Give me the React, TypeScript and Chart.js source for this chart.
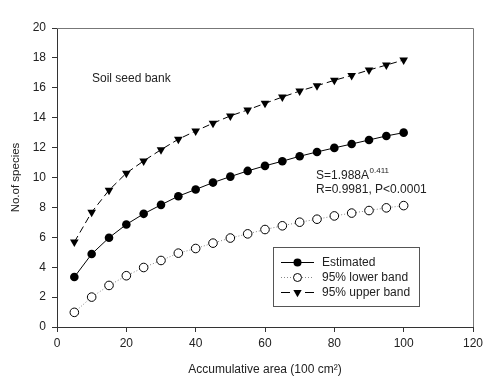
import React, { useEffect, useRef } from "react";
import { Chart, registerables } from "chart.js";

Chart.register(...registerables);

const areas = [5, 10, 15, 20, 25, 30, 35, 40, 45, 50, 55, 60, 65, 70, 75, 80, 85, 90, 95, 100];
const estimated = [3.34, 4.88, 5.97, 6.86, 7.57, 8.17, 8.75, 9.2, 9.66, 10.06, 10.44, 10.78, 11.09, 11.42, 11.71, 11.98, 12.24, 12.51, 12.78, 13.0];
const lowerBand = [0.98, 2.0, 2.78, 3.43, 3.98, 4.45, 4.94, 5.25, 5.61, 5.95, 6.23, 6.52, 6.77, 7.01, 7.21, 7.43, 7.62, 7.79, 7.97, 8.12];
const upperBand = [5.68, 7.68, 9.15, 10.29, 11.11, 11.86, 12.56, 13.11, 13.63, 14.12, 14.52, 14.96, 15.38, 15.78, 16.14, 16.5, 16.83, 17.19, 17.52, 17.86];
const seriesLabels = ["Estimated", "95% lower band", "95% upper band"];
const xTitle = "Accumulative area (100 cm\u00B2)";
const yTitle = "No.of species";
const panelLabel = "Soil seed bank";
const eqMain = "S=1.988A";
const eqExp = "0.411";
const eqStats = "R=0.9981, P<0.0001";

const FONT = "'Liberation Sans', Arial, sans-serif";
const TEXT = "#222";

function drawMarker(ctx: CanvasRenderingContext2D, kind: string, x: number, y: number, r: number) {
  ctx.save();
  ctx.setLineDash([]);
  ctx.lineWidth = 1;
  ctx.strokeStyle = "#000";
  if (kind === "filled") {
    ctx.beginPath();
    ctx.arc(x, y, r, 0, Math.PI * 2);
    ctx.fillStyle = "#000";
    ctx.fill();
  } else if (kind === "open") {
    ctx.beginPath();
    ctx.arc(x, y, r, 0, Math.PI * 2);
    ctx.fillStyle = "#fff";
    ctx.fill();
    ctx.stroke();
  } else {
    ctx.beginPath();
    ctx.moveTo(x - r * 0.866, y - r * 0.5);
    ctx.lineTo(x + r * 0.866, y - r * 0.5);
    ctx.lineTo(x, y + r);
    ctx.closePath();
    ctx.fillStyle = "#000";
    ctx.fill();
  }
  ctx.restore();
}

const decorPlugin = {
  id: "decor",
  afterDraw(chart: any) {
    const ctx: CanvasRenderingContext2D = chart.ctx;
    const { left, right, top, bottom } = chart.chartArea;
    ctx.save();
    // frame top & right
    ctx.strokeStyle = "#777";
    ctx.lineWidth = 1;
    ctx.beginPath();
    ctx.moveTo(left, top + 0.5);
    ctx.lineTo(right + 0.5, top + 0.5);
    ctx.lineTo(right + 0.5, bottom);
    ctx.stroke();

    // annotations
    ctx.fillStyle = TEXT;
    ctx.textBaseline = "middle";
    ctx.textAlign = "left";
    ctx.font = `12px ${FONT}`;
    ctx.fillText(panelLabel, 92, 79);
    ctx.fillText(eqMain, 316, 176);
    const w = ctx.measureText(eqMain).width;
    ctx.font = `8px ${FONT}`;
    ctx.fillText(eqExp, 316 + w + 0.5, 171);
    ctx.font = `12px ${FONT}`;
    ctx.fillText(eqStats, 316, 189.5);

    // legend box
    ctx.strokeStyle = "#555";
    ctx.strokeRect(273.5, 247.5, 146, 59);
    const rows = [262, 277, 292];
    const kinds = ["filled", "open", "tri"];
    chart.data.datasets.forEach((ds: any, i: number) => {
      const y = rows[i];
      ctx.save();
      ctx.strokeStyle = ds.borderColor;
      ctx.lineWidth = ds.borderWidth;
      ctx.setLineDash(kinds[i] === "tri" ? [9, 15] : ds.borderDash || []);
      ctx.beginPath();
      ctx.moveTo(281, y + 0.5);
      ctx.lineTo(314, y + 0.5);
      ctx.stroke();
      ctx.restore();
      drawMarker(ctx, kinds[i], 297.5, y + 0.5, kinds[i] === "tri" ? 4.8 : 4);
      ctx.fillStyle = TEXT;
      ctx.font = `12px ${FONT}`;
      ctx.textBaseline = "middle";
      ctx.fillText(ds.label, 322, y + 0.5);
    });
    ctx.restore();
  },
};

export default function App() {
  const ref = useRef<HTMLCanvasElement | null>(null);
  useEffect(() => {
    if (!ref.current) return;
    const toPts = (ys: number[]) => areas.map((x, i) => ({ x, y: ys[i] }));
    const chart = new Chart(ref.current, {
      type: "scatter",
      data: {
        datasets: [
          {
            label: seriesLabels[0],
            data: toPts(estimated),
            showLine: true,
            borderColor: "#000",
            borderWidth: 1,
            pointRadius: 4.3,
            pointBackgroundColor: "#000",
            pointBorderColor: "#000",
            pointBorderWidth: 0,
          },
          {
            label: seriesLabels[1],
            data: toPts(lowerBand),
            showLine: true,
            borderColor: "#888",
            borderWidth: 1,
            borderDash: [1, 2],
            pointRadius: 4.3,
            pointBackgroundColor: "#fff",
            pointBorderColor: "#000",
            pointBorderWidth: 1,
          },
          {
            label: seriesLabels[2],
            data: toPts(upperBand),
            showLine: true,
            borderColor: "#000",
            borderWidth: 1,
            borderDash: [7, 4],
            pointStyle: "triangle",
            rotation: 180,
            pointRadius: 5,
            pointBackgroundColor: "#000",
            pointBorderColor: "#000",
            pointBorderWidth: 0,
          },
        ],
      } as any,
      options: {
        responsive: false,
        animation: false,
        layout: { padding: { top: 28, right: 27, left: 0, bottom: 0 } },
        plugins: { legend: { display: false }, tooltip: { enabled: false } },
        scales: {
          x: {
            type: "linear",
            min: 0,
            max: 120,
            ticks: { stepSize: 20, color: TEXT, font: { family: FONT, size: 12 }, padding: 4 },
            grid: { drawOnChartArea: false, tickLength: 5, color: "#333", tickWidth: 1 },
            border: { display: true, color: "#333", width: 1 },
            title: {
              display: true,
              text: xTitle,
              color: TEXT,
              font: { family: FONT, size: 12 },
              padding: { top: 0, bottom: 10 },
            },
            afterFit: (s: any) => {
              s.height = 60;
            },
          },
          y: {
            type: "linear",
            min: 0,
            max: 20,
            ticks: { stepSize: 2, color: TEXT, font: { family: FONT, size: 12 }, padding: 6 },
            grid: { drawOnChartArea: false, tickLength: 5, color: "#333", tickWidth: 1 },
            border: { display: true, color: "#333", width: 1 },
            title: {
              display: true,
              text: yTitle,
              color: TEXT,
              font: { family: FONT, size: 11.5 },
              padding: { top: 9, bottom: 0 },
            },
            afterFit: (s: any) => {
              s.width = 57;
            },
          },
        },
      } as any,
      plugins: [decorPlugin],
    });
    return () => chart.destroy();
  }, []);
  return (
    <div style={{ position: "fixed", left: 0, top: 0, width: 500, height: 387, background: "#fff" }}>
      <canvas ref={ref} width={500} height={387} style={{ width: 500, height: 387 }} />
    </div>
  );
}
